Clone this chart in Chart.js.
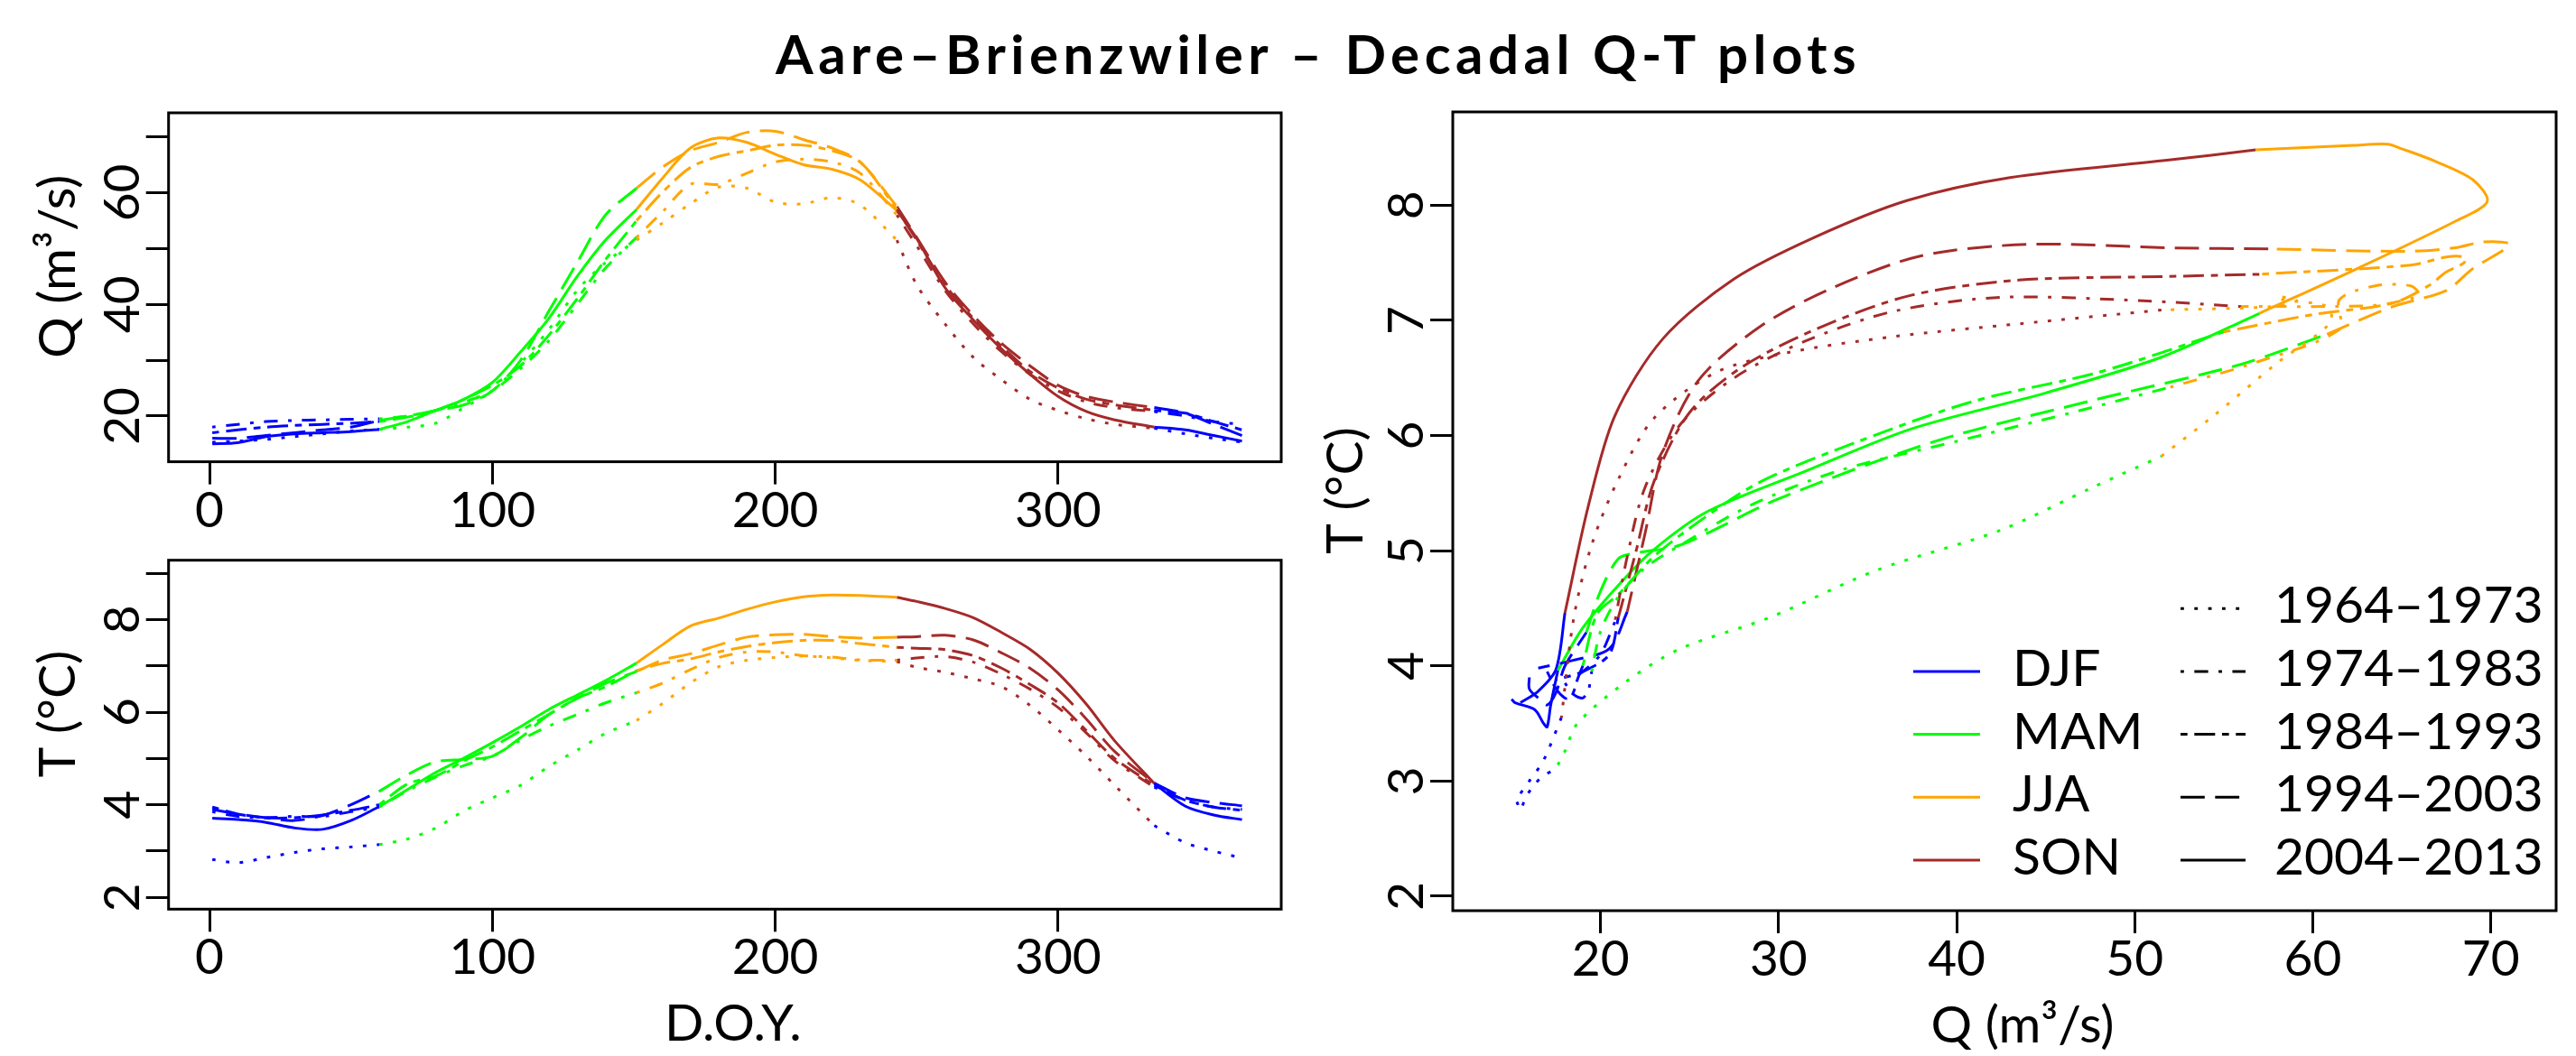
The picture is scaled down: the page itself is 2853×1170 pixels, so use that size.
<!DOCTYPE html>
<html>
<head>
<meta charset="utf-8">
<title>Aare–Brienzwiler – Decadal Q-T plots</title>
<script src="https://cdn.jsdelivr.net/npm/chart.js@4.4.1/dist/chart.umd.min.js"></script>
<style>
  html, body { margin: 0; padding: 0; background: #ffffff; }
  #page { position: relative; width: 2853px; height: 1170px; overflow: hidden; background: #ffffff; }
  #title {
    position: absolute; left: 1460px; top: 29px; transform: translateX(-50%);
    font: bold 60px Lato, sans-serif; line-height: 60px; letter-spacing: 5.5px; white-space: nowrap; color: #000;
  }
  canvas { position: absolute; }
</style>
</head>
<body>
<div id="page">
  <div id="title">Aare–Brienzwiler – Decadal Q-T plots</div>
  <canvas id="qDoyChart" width="1440" height="520" style="left:0px;top:100px"></canvas>
  <canvas id="tDoyChart" width="1440" height="570" style="left:0px;top:600px"></canvas>
  <canvas id="qtChart" width="1413" height="1070" style="left:1440px;top:100px"></canvas>
</div>
<script>
const doy = [1, 10, 20, 30, 40, 50, 60, 70, 80, 90, 100, 110, 120, 130, 140, 151, 160, 170, 180,
  190, 200, 210, 220, 230, 243, 250, 260, 270, 280, 290, 300, 310, 320, 334, 345, 355, 365];
const seasonStartDoy = [60, 151, 243, 334];
const seasonNames = ["DJF", "MAM", "JJA", "SON"];
const decadeNames = ["1964–1973", "1974–1983", "1984–1993", "1994–2003", "2004–2013"];

// discharge Q (m3/s)
const q1964 = [15.3, 15.5, 15.8, 16.3, 16.8, 17.3, 17.6, 18.0, 18.7, 21.5, 24.5, 29.5, 35.5, 42.5, 47.5, 51.5, 54.5, 58.0, 61.0,
  60.8, 58.3, 58.0, 59.1, 57.8, 51.5, 43.5, 36.5, 30.5, 26.5, 23.0, 21.0, 19.5, 18.5, 17.8, 16.8, 16.0, 15.3];
const q1974 = [18.0, 18.5, 19.0, 19.2, 19.3, 19.4, 19.5, 20.0, 21.0, 22.5, 24.5, 28.5, 33.5, 40.0, 46.5, 52.0, 56.5, 61.5, 61.5,
  63.5, 65.5, 66.0, 65.5, 63.5, 56.0, 50.5, 42.5, 36.5, 31.5, 27.5, 24.5, 22.5, 21.5, 20.8, 20.0, 19.0, 18.5];
const q1984 = [17.0, 17.5, 18.0, 18.3, 18.5, 18.7, 19.0, 19.8, 21.0, 23.0, 25.5, 29.0, 34.5, 41.0, 48.0, 55.0, 60.0, 64.5, 66.5,
  67.5, 68.5, 68.5, 67.5, 65.5, 57.0, 51.5, 43.5, 37.5, 32.5, 28.0, 25.0, 23.0, 22.0, 21.0, 20.5, 19.0, 17.5];
const q1994 = [16.0, 16.0, 16.5, 17.0, 17.5, 18.0, 19.2, 20.0, 21.0, 22.0, 24.5, 30.0, 38.8, 47.5, 56.0, 60.8, 64.5, 67.5, 69.0,
  70.8, 71.0, 69.5, 68.0, 65.5, 57.5, 52.0, 44.0, 38.0, 33.0, 29.0, 25.5, 23.5, 22.5, 21.5, 20.5, 18.5, 16.5];
const q2004 = [15.0, 15.2, 16.3, 16.8, 17.0, 17.2, 17.6, 19.0, 21.0, 23.0, 26.0, 31.5, 37.5, 45.0, 51.5, 57.0, 62.5, 68.0, 69.8,
  69.0, 66.9, 65.0, 64.2, 62.3, 56.8, 51.8, 43.0, 37.2, 32.0, 27.5, 23.5, 20.8, 19.3, 18.0, 17.5, 16.5, 15.5];

// water temperature T (degC)
const t1964 = [2.82, 2.75, 2.86, 2.97, 3.05, 3.09, 3.14, 3.26, 3.50, 3.87, 4.15, 4.42, 4.83, 5.18, 5.54, 5.82, 6.18, 6.63, 6.98,
  7.12, 7.18, 7.21, 7.17, 7.12, 7.09, 6.97, 6.86, 6.72, 6.55, 6.15, 5.62, 5.05, 4.42, 3.55, 3.18, 3.00, 2.85];
const t1974 = [3.85, 3.75, 3.72, 3.75, 3.75, 3.85, 3.95, 4.30, 4.60, 4.85, 5.05, 5.40, 5.70, 5.95, 6.20, 6.42, 6.62, 6.92, 7.18,
  7.30, 7.30, 7.22, 7.19, 7.13, 7.12, 7.17, 7.20, 7.08, 6.82, 6.50, 6.10, 5.55, 4.95, 4.38, 4.10, 3.95, 3.90];
const t1984 = [3.95, 3.80, 3.72, 3.72, 3.78, 3.88, 4.00, 4.45, 4.62, 4.95, 5.25, 5.60, 5.95, 6.30, 6.55, 6.90, 7.05, 7.15, 7.30,
  7.42, 7.50, 7.55, 7.55, 7.48, 7.40, 7.38, 7.35, 7.22, 6.95, 6.60, 6.20, 5.60, 5.00, 4.42, 4.10, 3.95, 3.88];
const t1994 = [3.90, 3.80, 3.72, 3.66, 3.77, 4.00, 4.29, 4.65, 4.93, 4.98, 5.05, 5.45, 5.95, 6.30, 6.62, 6.88, 7.12, 7.26, 7.45,
  7.62, 7.67, 7.68, 7.63, 7.60, 7.62, 7.63, 7.66, 7.56, 7.28, 6.95, 6.48, 5.85, 5.15, 4.47, 4.15, 4.05, 3.98];
const t2004 = [3.71, 3.68, 3.62, 3.50, 3.47, 3.66, 3.96, 4.33, 4.70, 5.01, 5.34, 5.69, 6.06, 6.37, 6.68, 7.06, 7.45, 7.86, 8.03,
  8.22, 8.38, 8.49, 8.53, 8.52, 8.48, 8.39, 8.24, 8.04, 7.72, 7.36, 6.84, 6.17, 5.38, 4.46, 3.97, 3.78, 3.68];

const qByDecade = [q1964, q1974, q1984, q1994, q2004];
const tByDecade = [t1964, t1974, t1984, t1994, t2004];

// tick values
const doyTicks = [0, 100, 200, 300];
const qTicks = [20, 30, 40, 50, 60, 70];
const qTickLabelsLeft = [20, 40, 60];
const tTicksLeft = [2, 3, 4, 5, 6, 7, 8, 9];
const tTickLabelsLeft = [2, 4, 6, 8];
const tTicksRight = [2, 3, 4, 5, 6, 7, 8];

// styles
const seasonColors = ["#0000FF", "#00FF00", "#FFA500", "#A52A2A"];
const U = 3.83;
const decadeDash = [[U, 3 * U], [U, 3 * U, 4 * U, 3 * U], [2 * U, 2 * U, 6 * U, 2 * U], [7 * U, 3 * U], []];
const TICK_FONT = "55px Lato";
const LABEL_FONT = "57px Lato";

/**
 * Helper: split the year into season pieces (index ranges into doy)
 */
function seasonSegments() {
  const cuts = [0, ...seasonStartDoy.map(d => doy.indexOf(d)), doy.length - 1];
  const segs = [];
  for (let k = 0; k < cuts.length - 1; k++) {
    segs.push({ from: cuts[k], to: cuts[k + 1], season: k % seasonNames.length });
  }
  return segs;
}

/**
 * Helper: one dataset per decade and season piece
 */
function buildDatasets(xByDecade, yByDecade) {
  const sets = [];
  decadeNames.forEach((name, d) => {
    seasonSegments().forEach(seg => {
      const pts = [];
      for (let i = seg.from; i <= seg.to; i++) pts.push({ x: xByDecade[d][i], y: yByDecade[d][i] });
      sets.push({
        label: `${name} ${seasonNames[seg.season]}`,
        data: pts,
        showLine: true,
        borderColor: seasonColors[seg.season],
        borderWidth: 3,
        borderDash: decadeDash[d],
        pointRadius: 0,
        tension: 0.3,
        fill: false,
      });
    });
  });
  return sets;
}

function axisOpts(min, max, ticks, size) {
  return {
    type: "linear",
    min,
    max,
    afterBuildTicks: (axis) => { axis.ticks = ticks.map(v => ({ value: v })); },
    afterFit: (axis) => {
      if (axis.isHorizontal()) axis.height = size;
      else axis.width = size;
    },
    ticks: { display: false },
    grid: { display: true, drawOnChartArea: false, drawTicks: true, tickLength: 25, tickWidth: 3, tickColor: "#000" },
    border: { display: false },
  };
}

function drawRotated(ctx, text, x, y) {
  ctx.save();
  ctx.translate(x, y);
  ctx.rotate(-Math.PI / 2);
  ctx.fillText(text, 0, 0);
  ctx.restore();
}

// box, tick labels and axis titles in R style
function panelFrame(spec) {
  return {
    id: "panelFrame",
    afterDraw(chart) {
      const { ctx, chartArea: a } = chart;
      const sx = chart.scales.x;
      const sy = chart.scales.y;
      ctx.save();
      ctx.strokeStyle = "#000";
      ctx.lineWidth = 3;
      ctx.setLineDash([]);
      ctx.strokeRect(a.left, a.top, a.right - a.left, a.bottom - a.top);

      ctx.fillStyle = "#000";
      ctx.textAlign = "center";
      ctx.textBaseline = "alphabetic";
      ctx.font = TICK_FONT;
      spec.xLabels.forEach(v => ctx.fillText(String(v), sx.getPixelForValue(v), a.bottom + 72));
      spec.yLabels.forEach(v => drawRotated(ctx, String(v), a.left - 33, sy.getPixelForValue(v)));

      ctx.font = LABEL_FONT;
      if (spec.xTitle) {
        ctx.fillText(spec.xTitle, (a.left + a.right) / 2 + spec.xTitleShift, a.bottom + 146);
      }
      if (spec.yTitle) {
        drawRotated(ctx, spec.yTitle, a.left - spec.yTitleGap, (a.top + a.bottom) / 2 - 23);
      }
      ctx.restore();
    },
  };
}

const legendPlugin = {
  id: "qtLegend",
  afterDraw(chart) {
    const { ctx, chartArea: a } = chart;
    const rowY = i => a.bottom - 56 - (decadeNames.length - 1 - i) * 69.7;
    ctx.save();
    ctx.font = LABEL_FONT;
    ctx.textAlign = "left";
    ctx.textBaseline = "alphabetic";
    ctx.fillStyle = "#000";
    ctx.lineWidth = 3;

    seasonNames.forEach((name, i) => {
      const y = rowY(i + 1);
      ctx.strokeStyle = seasonColors[i];
      ctx.setLineDash([]);
      ctx.beginPath();
      ctx.moveTo(a.right - 712, y);
      ctx.lineTo(a.right - 638, y);
      ctx.stroke();
      ctx.fillText(name, a.right - 602, y + 16);
    });

    decadeNames.forEach((name, i) => {
      const y = rowY(i);
      ctx.strokeStyle = "#000";
      ctx.setLineDash(decadeDash[i]);
      ctx.beginPath();
      ctx.moveTo(a.right - 416, y);
      ctx.lineTo(a.right - 344, y);
      ctx.stroke();
      ctx.setLineDash([]);
      ctx.fillText(name, a.right - 312, y + 16);
    });
    ctx.restore();
  },
};

function makeChart(id, xByDecade, yByDecade, scales, padding, plugins) {
  return new Chart(document.getElementById(id), {
    type: "scatter",
    data: { datasets: buildDatasets(xByDecade, yByDecade) },
    options: {
      responsive: false,
      animation: false,
      events: [],
      layout: { padding },
      plugins: { legend: { display: false }, tooltip: { enabled: false } },
      scales,
    },
    plugins,
  });
}

const doyByDecade = decadeNames.map(() => doy);

// Q vs day of year
makeChart("qDoyChart", doyByDecade, qByDecade,
  { x: axisOpts(-14.46, 378.87, doyTicks, 108.4), y: axisOpts(11.8, 74.3, qTicks, 186.7) },
  { left: 0, top: 25, right: 21, bottom: 0 },
  [panelFrame({ xLabels: doyTicks, yLabels: qTickLabelsLeft, yTitle: "Q (m³/s)", yTitleGap: 104 })]);

// T vs day of year
makeChart("tDoyChart", doyByDecade, tByDecade,
  { x: axisOpts(-14.46, 378.87, doyTicks, 162.7), y: axisOpts(1.747, 9.28, tTicksLeft, 186.7) },
  { left: 0, top: 20.7, right: 21, bottom: 0 },
  [panelFrame({ xLabels: doyTicks, yLabels: tTickLabelsLeft, xTitle: "D.O.Y.", xTitleShift: 9, yTitle: "T (°C)", yTitleGap: 104 })]);

// T vs Q hysteresis
makeChart("qtChart", qByDecade, tByDecade,
  { x: axisOpts(11.70, 73.67, qTicks, 161), y: axisOpts(1.874, 8.81, tTicksRight, 169) },
  { left: 0, top: 24, right: 22, bottom: 0 },
  [panelFrame({ xLabels: qTicks, yLabels: tTicksRight, xTitle: "Q (m³/s)", xTitleShift: 20, yTitle: "T (°C)", yTitleGap: 100 }), legendPlugin]);
</script>
</body>
</html>
